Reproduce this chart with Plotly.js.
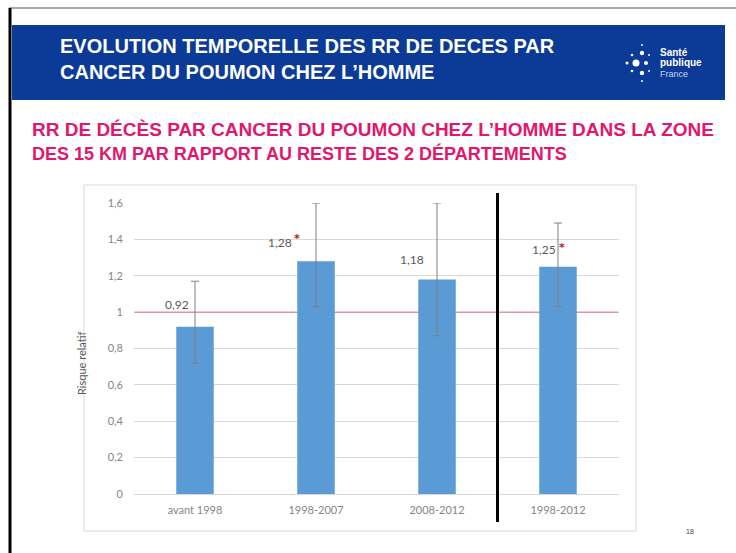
<!DOCTYPE html>
<html><head><meta charset="utf-8">
<script src="https://cdn.plot.ly/plotly-3.0.1.min.js"></script>
<style>html,body{margin:0;padding:0;background:#fff}#chart{width:736px;height:553px}</style>
</head><body><div id="chart"></div>
<script>
// ---- data ----
const categories = ['avant 1998', '1998-2007', '2008-2012', '1998-2012'];
const rr = [0.92, 1.28, 1.18, 1.25];
const ciLow = [0.72, 1.03, 0.87, 1.03];
const ciHigh = [1.17, 1.60, 1.60, 1.49];
const significant = [false, true, false, true];
const yTickVals = [0, 0.2, 0.4, 0.6, 0.8, 1, 1.2, 1.4, 1.6];
const referenceRR = 1;
const titleLines = ['EVOLUTION TEMPORELLE DES RR DE DECES PAR', 'CANCER DU POUMON CHEZ L\u2019HOMME'];
const subtitleLines = ['RR DE DÉCÈS PAR CANCER DU POUMON CHEZ L\u2019HOMME DANS LA ZONE', 'DES 15 KM PAR RAPPORT AU RESTE DES 2 DÉPARTEMENTS'];
const yTitle = 'Risque relatif';
const pageNumber = '18';

// ---- layout helpers (pixel -> paper) ----
const W = 736, H = 553;
const px = x => x / W;
const py = y => 1 - y / H;
const fmt = v => v.toFixed(2).replace('.', ',');

// label offsets (pixels) relative to bar top, styling only
const labelDx = [-18, -36, -25, -14];
const labelDy = [22, 19, 20, 17];
const starDx = [0, 17, 0, 18];
const starDy = [0, 4, 0, 2];

const trace = {
  type: 'bar',
  x: categories,
  y: rr,
  width: 0.31,
  marker: {color: '#5b9bd5'},
  error_y: {
    type: 'data', symmetric: false,
    array: ciHigh.map((h, i) => h - rr[i]),
    arrayminus: ciLow.map((l, i) => rr[i] - l),
    color: '#7f7f7f', thickness: 1, width: 4
  },
  hoverinfo: 'skip'
};

const annotations = [];
categories.forEach((c, i) => {
  annotations.push({
    xref: 'x', yref: 'y', x: c, y: rr[i], xshift: labelDx[i], yshift: labelDy[i],
    text: fmt(rr[i]), showarrow: false, xanchor: 'center', yanchor: 'middle',
    font: {family: 'Lato, sans-serif', size: 12, color: '#595959'}
  });
  if (significant[i]) {
    annotations.push({
      xref: 'x', yref: 'y', x: c, y: rr[i], xshift: labelDx[i] + starDx[i], yshift: labelDy[i] + starDy[i],
      text: '*', showarrow: false, xanchor: 'center', yanchor: 'middle',
      font: {family: 'DejaVu Sans, sans-serif', size: 11, color: '#b22222', weight: 'bold'}
    });
  }
});
// titles
annotations.push(
  {xref: 'paper', yref: 'paper', x: px(58), y: py(46), text: titleLines[0], showarrow: false, xanchor: 'left', yanchor: 'middle',
   font: {family: 'Liberation Sans, Arial, sans-serif', size: 20, color: '#ffffff', weight: 'bold'}},
  {xref: 'paper', yref: 'paper', x: px(58), y: py(72), text: titleLines[1], showarrow: false, xanchor: 'left', yanchor: 'middle',
   font: {family: 'Liberation Sans, Arial, sans-serif', size: 20, color: '#ffffff', weight: 'bold'}},
  {xref: 'paper', yref: 'paper', x: px(30), y: py(129), text: subtitleLines[0], showarrow: false, xanchor: 'left', yanchor: 'middle',
   font: {family: 'Liberation Sans, Arial, sans-serif', size: 19, color: '#e0176d', weight: 'bold'}},
  {xref: 'paper', yref: 'paper', x: px(30), y: py(153), text: subtitleLines[1], showarrow: false, xanchor: 'left', yanchor: 'middle',
   font: {family: 'Liberation Sans, Arial, sans-serif', size: 18, color: '#e0176d', weight: 'bold'}},
  {xref: 'paper', yref: 'paper', x: px(81), y: py(364), text: yTitle, showarrow: false, textangle: -90, xanchor: 'center', yanchor: 'middle',
   font: {family: 'Lato, sans-serif', size: 11, color: '#595959'}},
  {xref: 'paper', yref: 'paper', x: px(690), y: py(531), text: pageNumber, showarrow: false, xanchor: 'center', yanchor: 'middle',
   font: {family: 'Liberation Sans, Arial, sans-serif', size: 7, color: '#444'}},
  // logo text
  {xref: 'paper', yref: 'paper', x: px(658), y: py(52), text: 'Santé', showarrow: false, xanchor: 'left', yanchor: 'middle',
   font: {family: 'Liberation Sans, Arial, sans-serif', size: 10, color: '#ffffff', weight: 'bold'}},
  {xref: 'paper', yref: 'paper', x: px(658), y: py(63), text: 'publique', showarrow: false, xanchor: 'left', yanchor: 'middle',
   font: {family: 'Liberation Sans, Arial, sans-serif', size: 10, color: '#ffffff', weight: 'bold'}},
  {xref: 'paper', yref: 'paper', x: px(658), y: py(74), text: 'France', showarrow: false, xanchor: 'left', yanchor: 'middle',
   font: {family: 'Liberation Sans, Arial, sans-serif', size: 9, color: '#c9d6f0'}}
);

const dot = (x, y, r, color) => ({type: 'circle', xref: 'paper', yref: 'paper', x0: px(x - r), x1: px(x + r), y0: py(y + r), y1: py(y - r),
  fillcolor: color, line: {width: 0}, layer: 'above'});

const shapes = [
  // top gray line of slide
  {type: 'line', xref: 'paper', yref: 'paper', x0: px(9), x1: px(736), y0: py(8), y1: py(8), line: {color: '#8c8c8c', width: 1.5}},
  // left black border
  {type: 'line', xref: 'paper', yref: 'paper', x0: px(10), x1: px(10), y0: py(8), y1: py(553), line: {color: '#000', width: 3}},
  // blue banner
  {type: 'rect', xref: 'paper', yref: 'paper', x0: px(12), x1: px(725), y0: py(25), y1: py(100), fillcolor: '#0b3a97', line: {width: 0}, layer: 'below'},
  // chart box
  {type: 'rect', xref: 'paper', yref: 'paper', x0: px(84), x1: px(636), y0: py(185), y1: py(531), line: {color: '#d9d9d9', width: 1}, layer: 'below'},
  // reference line RR = 1
  {type: 'line', xref: 'x', yref: 'y', x0: -0.5, x1: 3.5, y0: referenceRR, y1: referenceRR, line: {color: '#d4729a', width: 1}, layer: 'between'},
  // black separator
  {type: 'line', xref: 'x', yref: 'paper', x0: 2.5, x1: 2.5, y0: py(522), y1: py(193), line: {color: '#000', width: 3}, layer: 'above'},
  // logo dots
  dot(636, 63, 3.5, '#ffffff'), dot(627, 63, 1.5, '#ffffff'), dot(646, 63, 2, '#ffffff'),
  dot(642, 53, 2.2, '#ffffff'), dot(642, 73, 2.2, '#ffffff'), dot(632, 55, 1.3, '#ffffff'), dot(632, 71, 1.3, '#ffffff'),
  dot(642, 45, 1, '#ffffff'), dot(642, 81, 1, '#ffffff'), dot(649, 55, 1, '#ffffff'), dot(649, 71, 1, '#ffffff')
];

const layout = {
  width: W, height: H,
  margin: {l: 0, r: 0, t: 0, b: 0},
  paper_bgcolor: '#ffffff', plot_bgcolor: '#ffffff',
  separators: ', ',
  showlegend: false,
  bargap: 0.69,
  xaxis: {
    domain: [px(134), px(619)],
    type: 'category',
    showgrid: false, zeroline: false, showline: false, ticks: '',
    tickfont: {family: 'Lato, sans-serif', size: 11, color: '#858585'},
    ticklabelstandoff: 8
  },
  yaxis: {
    domain: [py(494), py(203)],
    range: [0, 1.6],
    tickvals: yTickVals,
    tickformat: ',.1~f',
    showgrid: true, gridcolor: '#d9d9d9', gridwidth: 1,
    zeroline: true, zerolinecolor: '#d9d9d9', zerolinewidth: 1,
    showline: false, ticks: '',
    tickfont: {family: 'Lato, sans-serif', size: 11, color: '#858585'},
    ticklabelstandoff: 10
  },
  shapes: shapes,
  annotations: annotations
};

Plotly.newPlot('chart', [trace], layout, {staticPlot: true, displayModeBar: false});
</script>
</body></html>
